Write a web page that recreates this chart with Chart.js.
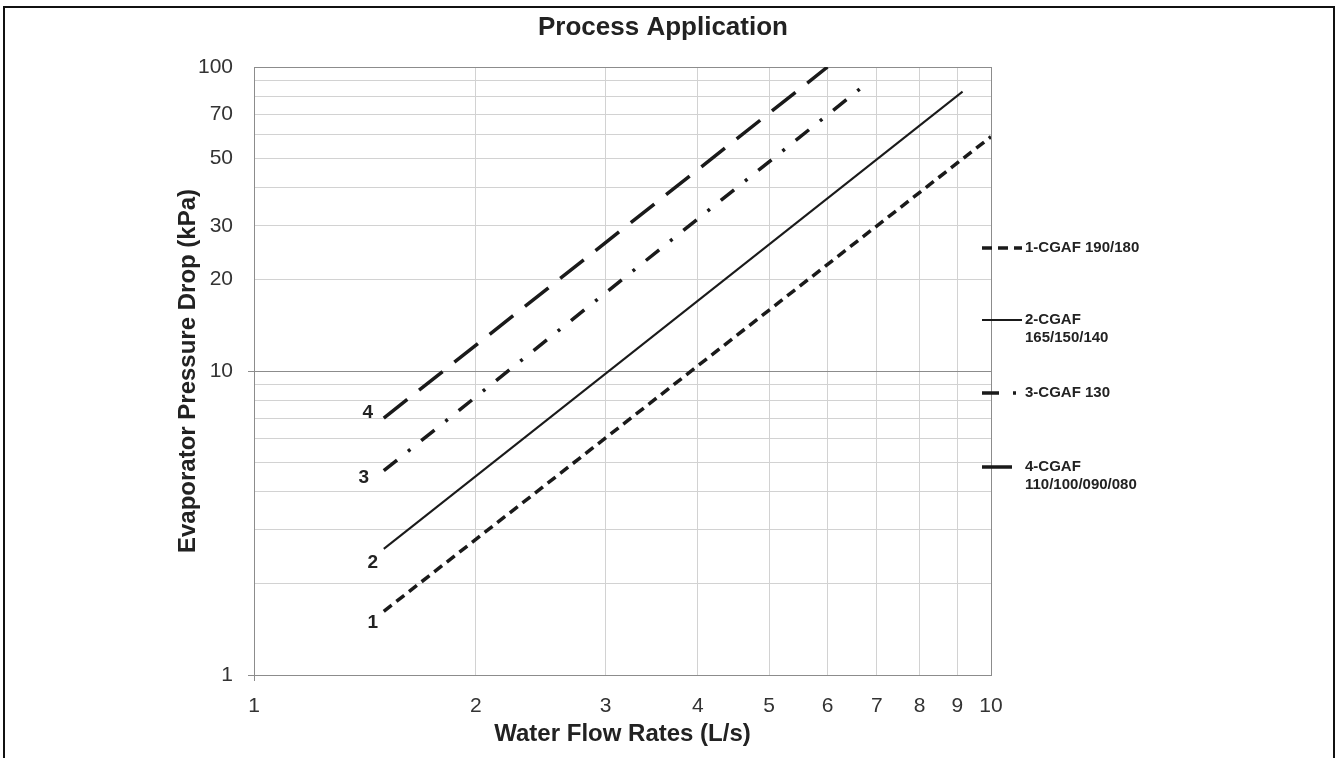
<!DOCTYPE html>
<html>
<head>
<meta charset="utf-8">
<title>Process Application</title>
<script src="https://cdn.jsdelivr.net/npm/chart.js@4.4.0/dist/chart.umd.min.js"></script>
<style>
  html, body { margin: 0; padding: 0; background: #fff; overflow: hidden; }
  #frame { position: absolute; left: 3px; top: 6px; width: 1328px; height: 800px; border: 2px solid #111; }
  #chart { position: absolute; left: 0; top: 0; }
</style>
</head>
<body>
<div id="frame"></div>
<canvas id="chart" width="1341" height="758"></canvas>
<script>
// end points of each curve: flow (L/s) -> pressure drop (kPa)
const curveNames = ["1", "2", "3", "4"];
const legendLabels = [["1-CGAF 190/180"], ["2-CGAF", "165/150/140"], ["3-CGAF 130"], ["4-CGAF", "110/100/090/080"]];
const flow1 = [1.5, 10];
const drop1 = [1.62, 59];
const flow2 = [1.5, 9.15];
const drop2 = [2.6, 83];
const flow3 = [1.5, 6.85];
const drop3 = [4.7, 90];
const flow4 = [1.5, 6.0];
const drop4 = [7.0, 100];
const xTicks = [1, 2, 3, 4, 5, 6, 7, 8, 9, 10];
const yGrid = [1, 2, 3, 4, 5, 6, 7, 8, 9, 10, 20, 30, 40, 50, 60, 70, 80, 90, 100];
const yTickLabels = [1, 10, 20, 30, 50, 70, 100];

const FONT = "'Liberation Sans', Arial, sans-serif";
Chart.defaults.font.family = FONT;

// line styles per curve
const dashes = [[10, 6], [], [17, 14, 3, 14], [30, 15]];
const widths = [3.5, 2, 3.5, 3.5];

function points(xs, ys) {
    return xs.map((x, i) => ({ x: x, y: ys[i] }));
}

const curves = [points(flow1, drop1), points(flow2, drop2), points(flow3, drop3), points(flow4, drop4)];

const darkLine = "#8c8c8c";
const lightLine = "#d2d2d2";

// title, curve numbers and the side legend
const decorations = {
    id: "decorations",
    afterDatasetsDraw(chart) {
        const ctx = chart.ctx;
        ctx.save();
        ctx.fillStyle = "#222";
        ctx.textBaseline = "middle";

        ctx.textAlign = "center";
        ctx.font = "bold 26px " + FONT;
        ctx.fillText("Process Application", 663, 28);

        // numbers next to the start of each curve
        const offsets = [[-11, 11], [-11, 14], [-20, 7], [-16, -5]];
        ctx.font = "bold 19px " + FONT;
        chart.data.datasets.forEach((ds, i) => {
            const pt = chart.getDatasetMeta(i).data[0];
            ctx.fillText(curveNames[i], pt.x + offsets[i][0], pt.y + offsets[i][1]);
        });

        // legend on the right
        const legendY = [248, 320, 393, 467];
        ctx.textAlign = "left";
        ctx.font = "bold 15px " + FONT;
        legendLabels.forEach((lines, i) => {
            ctx.beginPath();
            ctx.setLineDash(dashes[i]);
            ctx.lineWidth = widths[i];
            ctx.strokeStyle = "#1a1a1a";
            ctx.moveTo(982, legendY[i]);
            ctx.lineTo(i === 3 ? 1015 : 1022, legendY[i]);
            ctx.stroke();
            ctx.setLineDash([]);
            lines.forEach((t, j) => ctx.fillText(t, 1025, legendY[i] + j * 18));
        });
        ctx.restore();
    }
};

const gridColor = function (c) {
    const v = c.tick ? c.tick.value : null;
    return (v === 1 || v === 10 || v === 100) ? darkLine : lightLine;
};

new Chart(document.getElementById("chart"), {
    type: "line",
    data: {
        datasets: curves.map((pts, i) => ({
            label: legendLabels[i].join(" "),
            data: pts,
            borderColor: "#1a1a1a",
            borderWidth: widths[i],
            borderDash: dashes[i],
            borderCapStyle: "butt",
            pointRadius: 0,
            fill: false,
            tension: 0
        }))
    },
    options: {
        responsive: false,
        animation: false,
        devicePixelRatio: 1,
        layout: { padding: { top: 67, right: 350, left: 0, bottom: 0 } },
        plugins: {
            legend: { display: false },
            title: { display: false },
            tooltip: { enabled: false }
        },
        scales: {
            x: {
                type: "logarithmic",
                min: 1,
                max: 10,
                afterBuildTicks: s => { s.ticks = xTicks.map(v => ({ value: v })); },
                afterFit: s => { s.height = 83; },
                ticks: {
                    autoSkip: false,
                    maxRotation: 0,
                    padding: 13,
                    color: "#333",
                    font: { size: 21 },
                    callback: v => String(v)
                },
                grid: {
                    color: gridColor,
                    tickLength: 6,
                    tickColor: c => (c.tick && c.tick.value === 1) ? darkLine : "rgba(0,0,0,0)"
                },
                border: { color: darkLine },
                title: {
                    display: true,
                    text: "Water Flow Rates (L/s)",
                    color: "#222",
                    font: { size: 24, weight: "bold" },
                    padding: { top: 0, bottom: 9 }
                }
            },
            y: {
                type: "logarithmic",
                min: 1,
                max: 100,
                afterBuildTicks: s => { s.ticks = yGrid.map(v => ({ value: v })); },
                afterFit: s => { s.width = 254; },
                ticks: {
                    autoSkip: false,
                    padding: 15,
                    color: "#333",
                    font: { size: 21 },
                    callback: v => yTickLabels.includes(v) ? String(v) : ""
                },
                grid: {
                    color: gridColor,
                    tickLength: 6,
                    tickColor: c => (c.tick && (c.tick.value === 1 || c.tick.value === 10)) ? darkLine : "rgba(0,0,0,0)"
                },
                border: { color: darkLine },
                title: {
                    display: true,
                    text: "Evaporator Pressure Drop (kPa)",
                    color: "#222",
                    font: { size: 24, weight: "bold" },
                    padding: { top: 174, bottom: 0 }
                }
            }
        }
    },
    plugins: [decorations]
});
</script>
</body>
</html>
